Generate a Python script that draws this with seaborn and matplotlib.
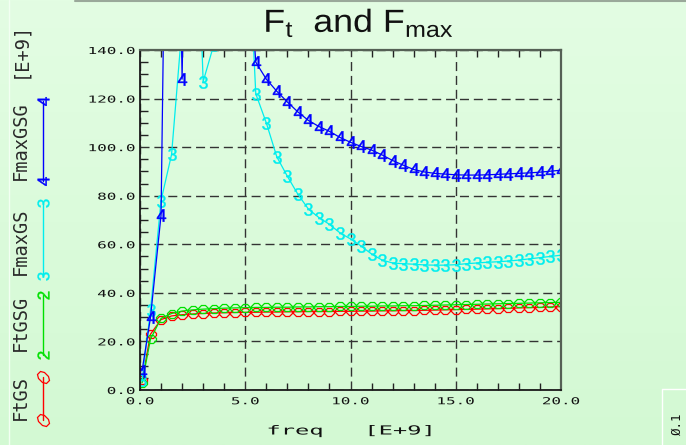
import numpy as np
import pandas as pd
import matplotlib
matplotlib.use("Agg")
import matplotlib.pyplot as plt
import matplotlib.patheffects as pe
from matplotlib.markers import MarkerStyle
from matplotlib.transforms import Affine2D
from matplotlib.lines import Line2D
from matplotlib.path import Path
from matplotlib.ticker import MultipleLocator, FixedLocator
from matplotlib.colors import LinearSegmentedColormap
import seaborn as sns

# ---------------- data (GHz, values in E+9) ----------------
freq = [0.1, 0.5, 1.0, 1.5, 2.0, 2.5, 3.0, 3.5, 4.0, 4.5, 5.0,
        5.5, 6.0, 6.5, 7.0, 7.5, 8.0, 8.5, 9.0, 9.5, 10.0,
        10.5, 11.0, 11.5, 12.0, 12.5, 13.0, 13.5, 14.0, 14.5, 15.0,
        15.5, 16.0, 16.5, 17.0, 17.5, 18.0, 18.5, 19.0, 19.5, 20.0]

ft_gs = [4.0, 23.0, 29.0, 30.5, 31.0, 31.3, 31.5, 31.7, 31.8, 31.9, 32.0,
         32.0, 32.1, 32.1, 32.2, 32.2, 32.3, 32.3, 32.3, 32.4, 32.4,
         32.5, 32.5, 32.6, 32.6, 32.7, 32.7, 32.8, 32.9, 33.0, 33.1,
         33.2, 33.3, 33.4, 33.5, 33.6, 33.8, 33.9, 34.0, 34.2, 34.3]

ft_gsg = [3.0, 21.0, 29.5, 31.5, 32.5, 33.0, 33.3, 33.5, 33.7, 33.8, 33.9,
          34.0, 34.0, 34.1, 34.1, 34.2, 34.2, 34.3, 34.3, 34.4, 34.4,
          34.5, 34.5, 34.6, 34.6, 34.7, 34.7, 34.8, 34.9, 35.0, 35.1,
          35.2, 35.3, 35.4, 35.5, 35.6, 35.7, 35.8, 35.9, 36.0, 36.1]

fmax_gs = [4.0, 33.0, 78.0, 97.0, 150.0, 250.0, 127.0, 142.0, 300.0, 300.0, 212.0,
           122.0, 110.0, 96.0, 88.0, 80.6, 74.5, 71.0, 68.2, 64.7, 62.2,
           59.3, 56.0, 53.5, 52.3, 52.0, 51.8, 51.5, 51.4, 51.4, 51.6,
           52.0, 52.3, 52.6, 52.8, 53.1, 53.5, 54.0, 54.5, 55.0, 55.5]

fmax_gsg = [8.0, 30.0, 72.0, 400.0, 128.0, 400.0, 400.0, 400.0, 400.0, 300.0, 197.0,
            135.0, 128.0, 123.0, 118.6, 114.5, 111.0, 108.5, 106.5, 104.0, 102.0,
            100.3, 98.8, 96.8, 94.5, 92.6, 90.8, 89.8, 89.2, 88.9, 88.6,
            88.5, 88.5, 88.6, 88.8, 89.0, 89.2, 89.4, 89.7, 90.1, 90.5]

series_names = ["FtGS", "FtGSG", "FmaxGS", "FmaxGSG"]
x_ticks = [0, 5, 10, 15, 20]
x_tick_labels = ["0.0", "5.0", "10.0", "15.0", "20.0"]
y_ticks = [0, 20, 40, 60, 80, 100, 120, 140]
y_tick_labels = ["0.0", "20.0", "40.0", "60.0", "80.0", "100.0", "120.0", "140.0"]

# ---------------- style ----------------
sns.set_theme(style="white")
plt.rcParams["font.family"] = ["DejaVu Sans Mono", "DejaVu Sans"]
plt.rcParams["mathtext.fontset"] = "custom"
plt.rcParams["mathtext.rm"] = "Liberation Sans"
plt.rcParams["mathtext.it"] = "Liberation Sans"

W, H = 686, 445


class Stretch(pe.AbstractPathEffect):
    """Horizontally stretch glyph paths (imitates the wide stroke font)."""

    def __init__(self, sx=1.6, anchor="center"):
        super().__init__()
        self.sx = sx
        self.anchor = anchor

    def draw_path(self, renderer, gc, tpath, affine, rgbFace=None):
        v = tpath.vertices
        if tpath.codes is not None and len(v):
            v = v[tpath.codes != Path.CLOSEPOLY]
        if len(v) == 0:
            renderer.draw_path(gc, tpath, affine, rgbFace)
            return
        xmin, xmax = v[:, 0].min(), v[:, 0].max()
        cx = xmax if self.anchor == "right" else (xmin if self.anchor == "left" else 0.5 * (xmin + xmax))
        pre = Affine2D().translate(-cx, 0).scale(self.sx, 1.0).translate(cx, 0)
        renderer.draw_path(gc, tpath, pre + affine, rgbFace)


fig = plt.figure(figsize=(W / 100, H / 100), dpi=100)
fig.patch.set_facecolor("#dcfadc")

# background gradient
bg = fig.add_axes([0, 0, 1, 1], zorder=-5)
grad = np.linspace(0, 1, 256).reshape(-1, 1)
cmap = LinearSegmentedColormap.from_list("bgg", ["#e3fde3", "#d3f9d3"])
bg.imshow(grad, aspect="auto", cmap=cmap, extent=[0, 1, 0, 1], origin="upper")
bg.set_axis_off()

ax = fig.add_axes([140 / W, 55 / H, 421 / W, 340 / H])
ax.set_facecolor("none")

red_mk = MarkerStyle("8", transform=Affine2D().scale(1.25, 0.85))
colors = ["#ff0000", "#00e000", "#00eeee", "#0000ff"]
series = [ft_gs, ft_gsg, fmax_gs, fmax_gsg]
markers = [red_mk, red_mk, "$3$", "$4$"]
msizes = [6.5, 6.5, 9, 9]
mfcs = ["none", "none", None, None]

for vals, color, mk, ms, mfc in zip(series, colors, markers, msizes, mfcs):
    sns.lineplot(x=freq, y=vals, ax=ax, color=color, marker=mk, markersize=ms,
                 mec=color, mfc=(mfc if mfc else color), mew=0.9 if mfc else 0.3,
                 lw=0.9, legend=False, sort=False, estimator=None)

ax.set_xlim(0, 20)
ax.set_ylim(0, 140)
ax.set_xlabel("")
ax.set_ylabel("")
ax.xaxis.set_major_locator(FixedLocator(x_ticks))
ax.yaxis.set_major_locator(FixedLocator(y_ticks))
ax.set_xticklabels(x_tick_labels)
ax.set_yticklabels(y_tick_labels)
ax.xaxis.set_minor_locator(MultipleLocator(1))
ax.yaxis.set_minor_locator(MultipleLocator(5))

ax.tick_params(axis="both", which="major", length=0, labelsize=6.9, labelcolor="#111111")
ax.tick_params(axis="x", which="major", pad=4.5)
ax.tick_params(axis="y", which="major", pad=3.6)
ax.tick_params(axis="x", which="minor", direction="in", length=5, width=1.0,
               bottom=True, top=True, color="#222222")
ax.tick_params(axis="y", which="minor", direction="in", length=6, width=1.0,
               left=True, right=False, color="#222222")

for lbl in ax.get_xticklabels():
    lbl.set_family("DejaVu Sans Mono")
    lbl.set_path_effects([Stretch(1.66, "center")])
for lbl in ax.get_yticklabels():
    lbl.set_family("DejaVu Sans Mono")
    lbl.set_path_effects([Stretch(1.66, "right")])

ax.grid(True, which="major", color="#333333", lw=1.0, linestyle=(0, (6.5, 3.5)))
ax.grid(False, which="minor")
for side in ["left", "bottom"]:
    ax.spines[side].set_color("#1a1a1a")
    ax.spines[side].set_linewidth(1.3)
for side in ["top", "right"]:
    ax.spines[side].set_color("#556055")
    ax.spines[side].set_linewidth(1.6)

# ---------------- decorations in pixel coordinates ----------------
ov = fig.add_axes([0, 0, 1, 1], facecolor="none")
ov.set_xlim(0, W)
ov.set_ylim(H, 0)
ov.set_axis_off()

# title
ttl = fig.text(359 / W, 1 - 32 / H, r"$\mathrm{F_t}$  and $\mathrm{F_{max}}$",
               ha="center", va="baseline", fontsize=23, color="#111111",
               family=["Liberation Sans", "DejaVu Sans"])
ttl.set_path_effects([Stretch(1.12, "center")])

# rotated legend / axis label on the left
legend_rows = [
    ("FtGS", 397, 377, 420, colors[0], MarkerStyle("8", transform=Affine2D().scale(0.85, 1.25).rotate_deg(45)), "none"),
    ("FtGSG", 323, 295, 355, colors[1], MarkerStyle("$2$", transform=Affine2D().rotate_deg(90)), colors[1]),
    ("FmaxGS", 241, 203, 276, colors[2], MarkerStyle("$3$", transform=Affine2D().rotate_deg(90)), colors[2]),
    ("FmaxGSG", 141, 101, 181, colors[3], MarkerStyle("$4$", transform=Affine2D().rotate_deg(90)), colors[3]),
]
for name, yc, y0, y1, col, mk, mfc in legend_rows:
    ov.text(20, yc, name, rotation=90, ha="center", va="center",
            fontsize=13.5, color="#2a2a2a", family="DejaVu Sans Mono")
    ov.add_line(Line2D([43, 43], [y0, y1], color=col, lw=1.0, marker=mk,
                       markersize=8.5, mec=col, mfc=mfc, mew=0.9 if mfc == "none" else 0.3))
ov.text(20, 50, "[E+9]", rotation=90, ha="center", va="center",
        fontsize=13.5, color="#2a2a2a", family="DejaVu Sans Mono")

# x axis label
t1 = ov.text(295, 431, "freq", ha="center", va="center", fontsize=9,
             color="#111111", family="DejaVu Sans Mono")
t1.set_path_effects([Stretch(1.9, "center")])
t2 = ov.text(400, 431, "[E+9]", ha="center", va="center", fontsize=9,
             color="#111111", family="DejaVu Sans Mono")
t2.set_path_effects([Stretch(1.9, "center")])

# frame details
ov.add_line(Line2D([75, W], [0.6, 0.6], color="#9aa89a", lw=1.5))
ov.add_line(Line2D([9, 9], [0, H], color="#f2fff2", lw=1.0))
ov.add_line(Line2D([662, 662], [389, H], color="#ffffff", lw=1.0))
ov.add_line(Line2D([662, W], [389, 389], color="#ffffff", lw=1.0))
ov.text(677, 424, "Ø.1", rotation=90, ha="center", va="center", fontsize=9,
        color="#111111", family="DejaVu Sans Mono")

fig.savefig("out.png", dpi=100, facecolor=fig.get_facecolor())
